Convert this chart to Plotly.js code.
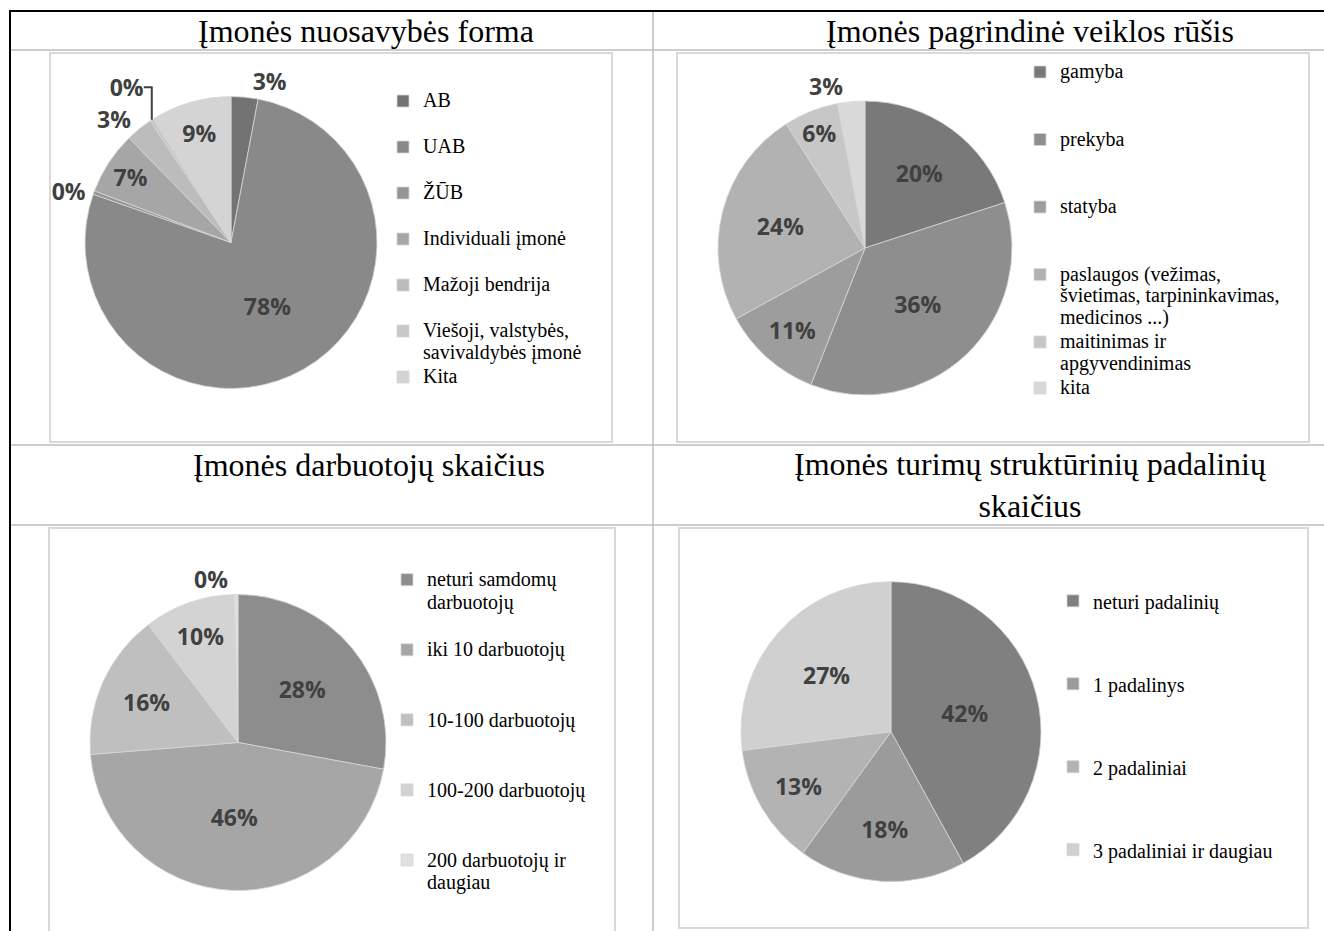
<!DOCTYPE html>
<html><head><meta charset="utf-8">
<script src="https://cdn.plot.ly/plotly-3.0.1.min.js"></script>
<style>html,body{margin:0;padding:0;background:#fff;} #chart{width:1324px;height:931px;}</style>
</head><body><div id="chart"></div>
<script>
// ---- Data ----
const titleOwnership = 'Įmonės nuosavybės forma';
const catsOwnership = ['AB', 'UAB', 'ŽŪB', 'Individuali įmonė', 'Mažoji bendrija', 'Viešoji, valstybės,\nsavivaldybės įmonė', 'Kita'];
const valsOwnership = [3, 78, 0.4, 7, 3, 0.4, 9];

const titleActivity = 'Įmonės pagrindinė veiklos rūšis';
const catsActivity = ['gamyba', 'prekyba', 'statyba', 'paslaugos (vežimas,\nšvietimas, tarpininkavimas,\nmedicinos ...)', 'maitinimas ir\napgyvendinimas', 'kita'];
const valsActivity = [20, 36, 11, 24, 6, 3];

const titleEmployees = 'Įmonės darbuotojų skaičius';
const catsEmployees = ['neturi samdomų\ndarbuotojų', 'iki 10 darbuotojų', '10-100 darbuotojų', '100-200 darbuotojų', '200 darbuotojų ir\ndaugiau'];
const valsEmployees = [28, 46, 16, 10, 0.4];

const titleUnits = 'Įmonės turimų struktūrinių padalinių<br>skaičius';
const catsUnits = ['neturi padalinių', '1 padalinys', '2 padaliniai', '3 padaliniai ir daugiau'];
const valsUnits = [42, 18, 13, 27];

// ---- Layout helpers ----
const W = 1324, H = 931;
const px = x => x / W;
const py = y => 1 - y / H;

const LEG_TEXT = 20;
function legendLabel(cat, lines, padMulti) {
  const out = cat.split('\n').map(p => `<span style="font-size:${LEG_TEXT}px">${p}</span>`);
  if (out.length === 1 || padMulti) {
    while (out.length < lines) out.push('\u00a0');
  }
  return out.join('<br>');
}

const charts = [
  {cats: catsOwnership, vals: valsOwnership, title: titleOwnership, tx: 366, ty: 31,
   cx: 231, cy: 242.5, r: 146, legend: 'legend', lx: 383, ly: 83.75, F: 16.54, lines: 2, padMulti: true,
   colors: ['#737373', '#898989', '#959595', '#a6a6a6', '#bcbcbc', '#c8c8c8', '#d4d4d4']},
  {cats: catsActivity, vals: valsActivity, title: titleActivity, tx: 1030, ty: 31,
   cx: 865, cy: 248, r: 147, legend: 'legend2', lx: 1020, ly: 54.75, F: 16.54, lines: 3, padMulti: false,
   colors: ['#797979', '#8e8e8e', '#9d9d9d', '#b2b2b2', '#c7c7c7', '#d9d9d9']},
  {cats: catsEmployees, vals: valsEmployees, title: titleEmployees, tx: 369, ty: 465,
   cx: 238, cy: 742.5, r: 148, legend: 'legend3', lx: 387, ly: 562, F: 17.2, lines: 3, padMulti: true,
   colors: ['#8d8d8d', '#a6a6a6', '#bfbfbf', '#d3d3d3', '#e0e0e0']},
  {cats: catsUnits, vals: valsUnits, title: titleUnits, tx: 1030, ty: 485,
   cx: 891, cy: 731.7, r: 150, legend: 'legend4', lx: 1053, ly: 581, F: 20.5, lines: 3, padMulti: true,
   colors: ['#808080', '#9b9b9b', '#b3b3b3', '#d0d0d0']}
];

const labelFont = {family: 'Open Sans', size: 23, color: '#404040', weight: 700};

const data = charts.map(c => ({
  type: 'pie',
  labels: c.cats.map(k => legendLabel(k, c.lines, c.padMulti)),
  values: c.vals,
  sort: false,
  direction: 'clockwise',
  rotation: 0,
  domain: {x: [px(c.cx - c.r), px(c.cx + c.r)], y: [py(c.cy + c.r), py(c.cy - c.r)]},
  marker: {colors: c.colors, line: {color: '#d6d6d6', width: 0.8}},
  texttemplate: '%{value:.0f}%',
  textposition: c.vals.map(v => v < 5 ? 'outside' : 'inside'),
  insidetextorientation: 'horizontal',
  textfont: labelFont,
  insidetextfont: labelFont,
  outsidetextfont: labelFont,
  legend: c.legend,
  hoverinfo: 'skip',
  automargin: false
}));

const layout = {
  width: W, height: H,
  margin: {l: 0, r: 0, t: 0, b: 0},
  paper_bgcolor: '#ffffff',
  showlegend: true,
  uniformtext: {mode: 'show', minsize: 23},
  annotations: charts.map(c => ({
    text: c.title, xref: 'paper', yref: 'paper', x: px(c.tx), y: py(c.ty),
    xanchor: 'center', yanchor: 'middle', showarrow: false,
    font: {family: 'Liberation Serif', size: 32, color: '#000000'}
  })),
  shapes: [
    // chart frames
    {type: 'rect', xref: 'paper', yref: 'paper', x0: px(50), x1: px(612), y0: py(53), y1: py(442), line: {color: '#d9d9d9', width: 2}, layer: 'below'},
    {type: 'rect', xref: 'paper', yref: 'paper', x0: px(677), x1: px(1309), y0: py(53), y1: py(442), line: {color: '#d9d9d9', width: 2}, layer: 'below'},
    {type: 'rect', xref: 'paper', yref: 'paper', x0: px(49), x1: px(615), y0: py(528), y1: py(940), line: {color: '#d9d9d9', width: 2}, layer: 'below'},
    {type: 'rect', xref: 'paper', yref: 'paper', x0: px(679), x1: px(1308), y0: py(528), y1: py(928), line: {color: '#d9d9d9', width: 2}, layer: 'below'},
    // table lines
    {type: 'line', xref: 'paper', yref: 'paper', x0: px(653), x1: px(653), y0: py(11), y1: py(931), line: {color: '#bdbdbd', width: 1.5}, layer: 'below'},
    {type: 'line', xref: 'paper', yref: 'paper', x0: px(10), x1: px(1324), y0: py(50), y1: py(50), line: {color: '#bdbdbd', width: 1.5}, layer: 'below'},
    {type: 'line', xref: 'paper', yref: 'paper', x0: px(10), x1: px(1324), y0: py(445), y1: py(445), line: {color: '#bdbdbd', width: 1.5}, layer: 'below'},
    {type: 'line', xref: 'paper', yref: 'paper', x0: px(10), x1: px(1324), y0: py(525), y1: py(525), line: {color: '#bdbdbd', width: 1.5}, layer: 'below'},
    {type: 'line', xref: 'paper', yref: 'paper', x0: px(9), x1: px(1324), y0: py(11), y1: py(11), line: {color: '#000000', width: 2}, layer: 'above'},
    {type: 'line', xref: 'paper', yref: 'paper', x0: px(10), x1: px(10), y0: py(10), y1: py(931), line: {color: '#000000', width: 2}, layer: 'above'}
  ]
};

charts.forEach(c => {
  layout[c.legend] = {
    x: px(c.lx), y: py(c.ly), xanchor: 'left', yanchor: 'top',
    bgcolor: 'rgba(0,0,0,0)', borderwidth: 0, valign: 'top',
    font: {family: 'Liberation Serif', size: c.F, color: '#000000'}
  };
});

Plotly.newPlot('chart', data, layout, {displayModeBar: false, staticPlot: true});
</script></body></html>
